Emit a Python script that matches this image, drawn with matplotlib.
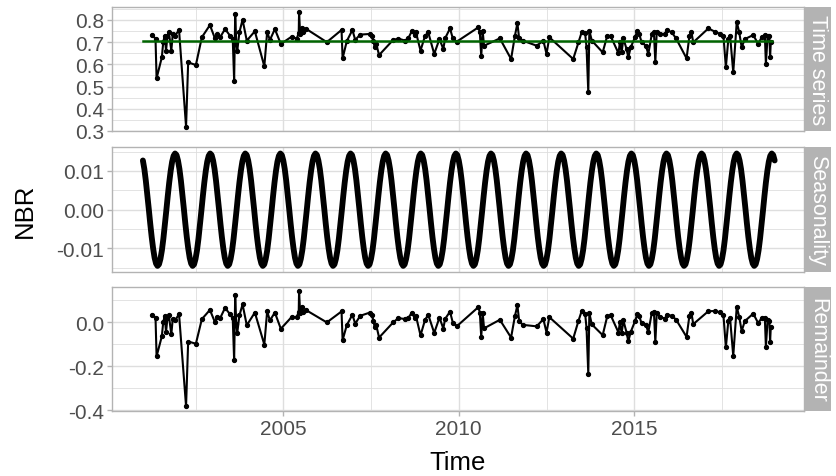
import numpy as np
import matplotlib.pyplot as plt
from matplotlib.ticker import MultipleLocator, FormatStrFormatter

plt.rcParams['font.family'] = ['Liberation Sans', 'DejaVu Sans']
plt.rcParams['axes.unicode_minus'] = False

# observation dates (decimal years) and NBR values
dates = [2001.27, 2001.36, 2001.39, 2001.54, 2001.58, 2001.62, 2001.66, 2001.70, 2001.74, 2001.81,
         2001.85, 2001.92, 2002.03, 2002.23, 2002.29, 2002.51, 2002.68, 2002.91, 2003.05, 2003.12,
         2003.20, 2003.34, 2003.48, 2003.56, 2003.60, 2003.63, 2003.66, 2003.69, 2003.75, 2003.84,
         2003.96, 2004.19, 2004.46, 2004.54, 2004.62, 2004.76, 2004.93, 2005.24, 2005.38, 2005.44,
         2005.45, 2005.48, 2005.52, 2005.56, 2005.65, 2006.24, 2006.66, 2006.69, 2006.81, 2006.97,
         2007.05, 2007.19, 2007.47, 2007.52, 2007.57, 2007.60, 2007.65, 2007.73, 2008.13, 2008.28,
         2008.47, 2008.56, 2008.66, 2008.75, 2008.78, 2008.91, 2009.04, 2009.13, 2009.30, 2009.45,
         2009.56, 2009.61, 2009.75, 2009.83, 2009.94, 2010.56, 2010.60, 2010.64, 2010.68, 2010.72,
         2011.17, 2011.49, 2011.60, 2011.67, 2011.72, 2011.82, 2012.22, 2012.41, 2012.50, 2012.58,
         2013.26, 2013.41, 2013.50, 2013.60, 2013.64, 2013.69, 2013.72, 2013.79, 2014.10, 2014.23,
         2014.33, 2014.55, 2014.59, 2014.64, 2014.69, 2014.78, 2014.83, 2014.90, 2015.02, 2015.09,
         2015.14, 2015.21, 2015.33, 2015.40, 2015.50, 2015.56, 2015.60, 2015.64, 2015.73, 2015.88,
         2015.92, 2016.07, 2016.19, 2016.49, 2016.57, 2016.63, 2016.68, 2017.11, 2017.30, 2017.44,
         2017.54, 2017.61, 2017.68, 2017.73, 2017.82, 2017.92, 2017.99, 2018.06, 2018.15, 2018.39,
         2018.53, 2018.63, 2018.72, 2018.75, 2018.80, 2018.85, 2018.87, 2018.89]

nbr = [0.734, 0.714, 0.537, 0.632, 0.700, 0.729, 0.662, 0.729, 0.744, 0.662,
       0.735, 0.730, 0.755, 0.319, 0.609, 0.597, 0.722, 0.777, 0.718, 0.735,
       0.722, 0.759, 0.730, 0.715, 0.527, 0.827, 0.700, 0.662, 0.745, 0.801,
       0.707, 0.749, 0.591, 0.745, 0.710, 0.759, 0.692, 0.725, 0.716, 0.740,
       0.837, 0.735, 0.765, 0.745, 0.760, 0.700, 0.755, 0.627, 0.705, 0.755,
       0.710, 0.734, 0.737, 0.728, 0.705, 0.680, 0.690, 0.642, 0.710, 0.716,
       0.707, 0.717, 0.749, 0.732, 0.744, 0.662, 0.729, 0.744, 0.647, 0.714,
       0.669, 0.717, 0.762, 0.717, 0.702, 0.767, 0.744, 0.636, 0.752, 0.684,
       0.717, 0.624, 0.729, 0.785, 0.717, 0.707, 0.684, 0.707, 0.647, 0.722,
       0.624, 0.699, 0.744, 0.740, 0.677, 0.474, 0.752, 0.707, 0.654, 0.729,
       0.726, 0.650, 0.699, 0.654, 0.717, 0.669, 0.632, 0.677, 0.722, 0.752,
       0.737, 0.699, 0.684, 0.647, 0.737, 0.744, 0.609, 0.744, 0.737, 0.737,
       0.756, 0.744, 0.717, 0.627, 0.726, 0.744, 0.699, 0.762, 0.747, 0.737,
       0.729, 0.587, 0.714, 0.729, 0.564, 0.792, 0.744, 0.677, 0.714, 0.732,
       0.692, 0.722, 0.732, 0.602, 0.729, 0.726, 0.632, 0.699]

remainder = [0.036, 0.021, -0.155, -0.063, 0.002, 0.028, -0.043, 0.020, 0.032, -0.055,
             0.016, 0.010, 0.038, -0.382, -0.087, -0.097, 0.015, 0.057, 0.002, 0.024,
             0.019, 0.066, 0.038, 0.018, -0.173, 0.125, -0.005, -0.046, 0.032, 0.082,
             -0.013, 0.045, -0.101, 0.050, 0.009, 0.045, -0.029, 0.025, 0.024, 0.048,
             0.145, 0.043, 0.071, 0.048, 0.056, 0.000, 0.050, -0.081, -0.012, 0.035,
             -0.006, 0.030, 0.045, 0.034, 0.008, -0.020, -0.014, -0.069, 0.000, 0.020,
             0.015, 0.020, 0.044, 0.019, 0.029, -0.059, 0.012, 0.035, -0.048, 0.022,
             -0.028, 0.016, 0.049, -0.001, -0.018, 0.070, 0.044, -0.067, 0.045, -0.027,
             0.012, -0.069, 0.029, 0.078, 0.007, -0.011, -0.018, 0.015, -0.046, 0.024,
             -0.074, 0.007, 0.051, 0.040, -0.026, -0.234, 0.042, -0.009, -0.058, 0.028,
             0.032, -0.046, 0.000, -0.049, 0.009, -0.046, -0.086, -0.043, 0.005, 0.039,
             0.028, -0.004, -0.010, -0.045, 0.044, 0.047, -0.091, 0.041, 0.026, 0.017,
             0.036, 0.030, 0.013, -0.066, 0.029, 0.042, -0.008, 0.051, 0.052, 0.046,
             0.034, -0.114, 0.007, 0.018, -0.153, 0.072, 0.025, -0.039, 0.006, 0.040,
             -0.003, 0.020, 0.022, -0.111, 0.012, 0.007, -0.088, -0.021]

# trend level and one-year seasonal profile (24 steps per year)
trend_start, trend_end, trend_level = 2001.0, 2018.92, 0.706
season_profile = [0.0127, 0.0105, 0.0075, 0.0040, 0.0003, -0.0035, -0.0070, -0.0100,
                  -0.0124, -0.0139, -0.0145, -0.0141, -0.0127, -0.0105, -0.0075, -0.0040,
                  -0.0003, 0.0035, 0.0070, 0.0100, 0.0124, 0.0139, 0.0145, 0.0141]
n_years = 19
season_last = 433

season = np.tile(season_profile, n_years)[:season_last]
season_t = 2001 + np.arange(len(season)) / len(season_profile)

fig = plt.figure(figsize=(8.37, 4.77), dpi=100)

W, H = 837, 477
left, right, strip_w = 112, 804.5, 26.5
panels = [(8.3, 132.3), (148.3, 272.7), (288.3, 412.3)]
labels = ['Time series', 'Seasonality', 'Remainder']

grid_c = '#DEDEDE'
border_c = '#B3B3B3'
tick_c = '#4D4D4D'

axes = []
for (top, bot), lab in zip(panels, labels):
    ax = fig.add_axes([left / W, 1 - bot / H, (right - left) / W, (bot - top) / H])
    for s in ax.spines.values():
        s.set_color(border_c)
        s.set_linewidth(1.0)
    ax.grid(which='major', color=grid_c, lw=1.0)
    ax.grid(which='minor', color=grid_c, lw=0.6)
    ax.set_axisbelow(True)
    ax.tick_params(which='major', color=border_c, length=3.5, width=1, labelsize=15,
                   labelcolor=tick_c, pad=2)
    ax.tick_params(which='minor', length=0)
    ax.set_xlim(2000.12, 2019.85)
    ax.xaxis.set_major_locator(MultipleLocator(5))
    ax.xaxis.set_minor_locator(MultipleLocator(2.5))
    if lab != 'Remainder':
        ax.tick_params(axis='x', which='major', labelbottom=False, length=0)

    sax = fig.add_axes([right / W, 1 - bot / H, strip_w / W, (bot - top) / H])
    sax.set_facecolor(border_c)
    for s in sax.spines.values():
        s.set_visible(False)
    sax.set_xticks([])
    sax.set_yticks([])
    sax.text(0.5, 0.5, lab, rotation=-90, color='white', fontsize=15.5,
             ha='center', va='center', transform=sax.transAxes)
    axes.append(ax)

ax1, ax2, ax3 = axes

# time series with trend
ax1.plot(dates, nbr, color='black', lw=1.5, marker='o', ms=2.8, zorder=3)
ax1.plot([trend_start, trend_end], [trend_level, trend_level], color='#006400', lw=1.8, zorder=4)
ax1.set_ylim(0.2986, 0.857)
ax1.yaxis.set_major_locator(MultipleLocator(0.1))
ax1.yaxis.set_minor_locator(MultipleLocator(0.05))
ax1.yaxis.set_major_formatter(FormatStrFormatter('%.1f'))

# seasonal component
ax2.plot(season_t, season, color='black', lw=4.2, solid_capstyle='round', zorder=3)
ax2.set_ylim(-0.0160, 0.0161)
ax2.yaxis.set_major_locator(MultipleLocator(0.01))
ax2.yaxis.set_minor_locator(MultipleLocator(0.005))
ax2.yaxis.set_major_formatter(FormatStrFormatter('%.2f'))

# remainder
ax3.plot(dates, remainder, color='black', lw=1.5, marker='o', ms=2.8, zorder=3)
ax3.set_ylim(-0.405, 0.16)
ax3.yaxis.set_major_locator(MultipleLocator(0.2))
ax3.yaxis.set_minor_locator(MultipleLocator(0.1))
ax3.yaxis.set_major_formatter(FormatStrFormatter('%.1f'))
ax3.set_xticks([2005, 2010, 2015])
ax3.set_xticklabels(['2005', '2010', '2015'])

fig.text(458 / W, 1 - 463 / H, 'Time', fontsize=18.5, ha='center', va='center')
fig.text(25 / W, 1 - 211 / H, 'NBR', fontsize=18.5, rotation=90, ha='center', va='center')

fig.savefig('out.png', dpi=100)
